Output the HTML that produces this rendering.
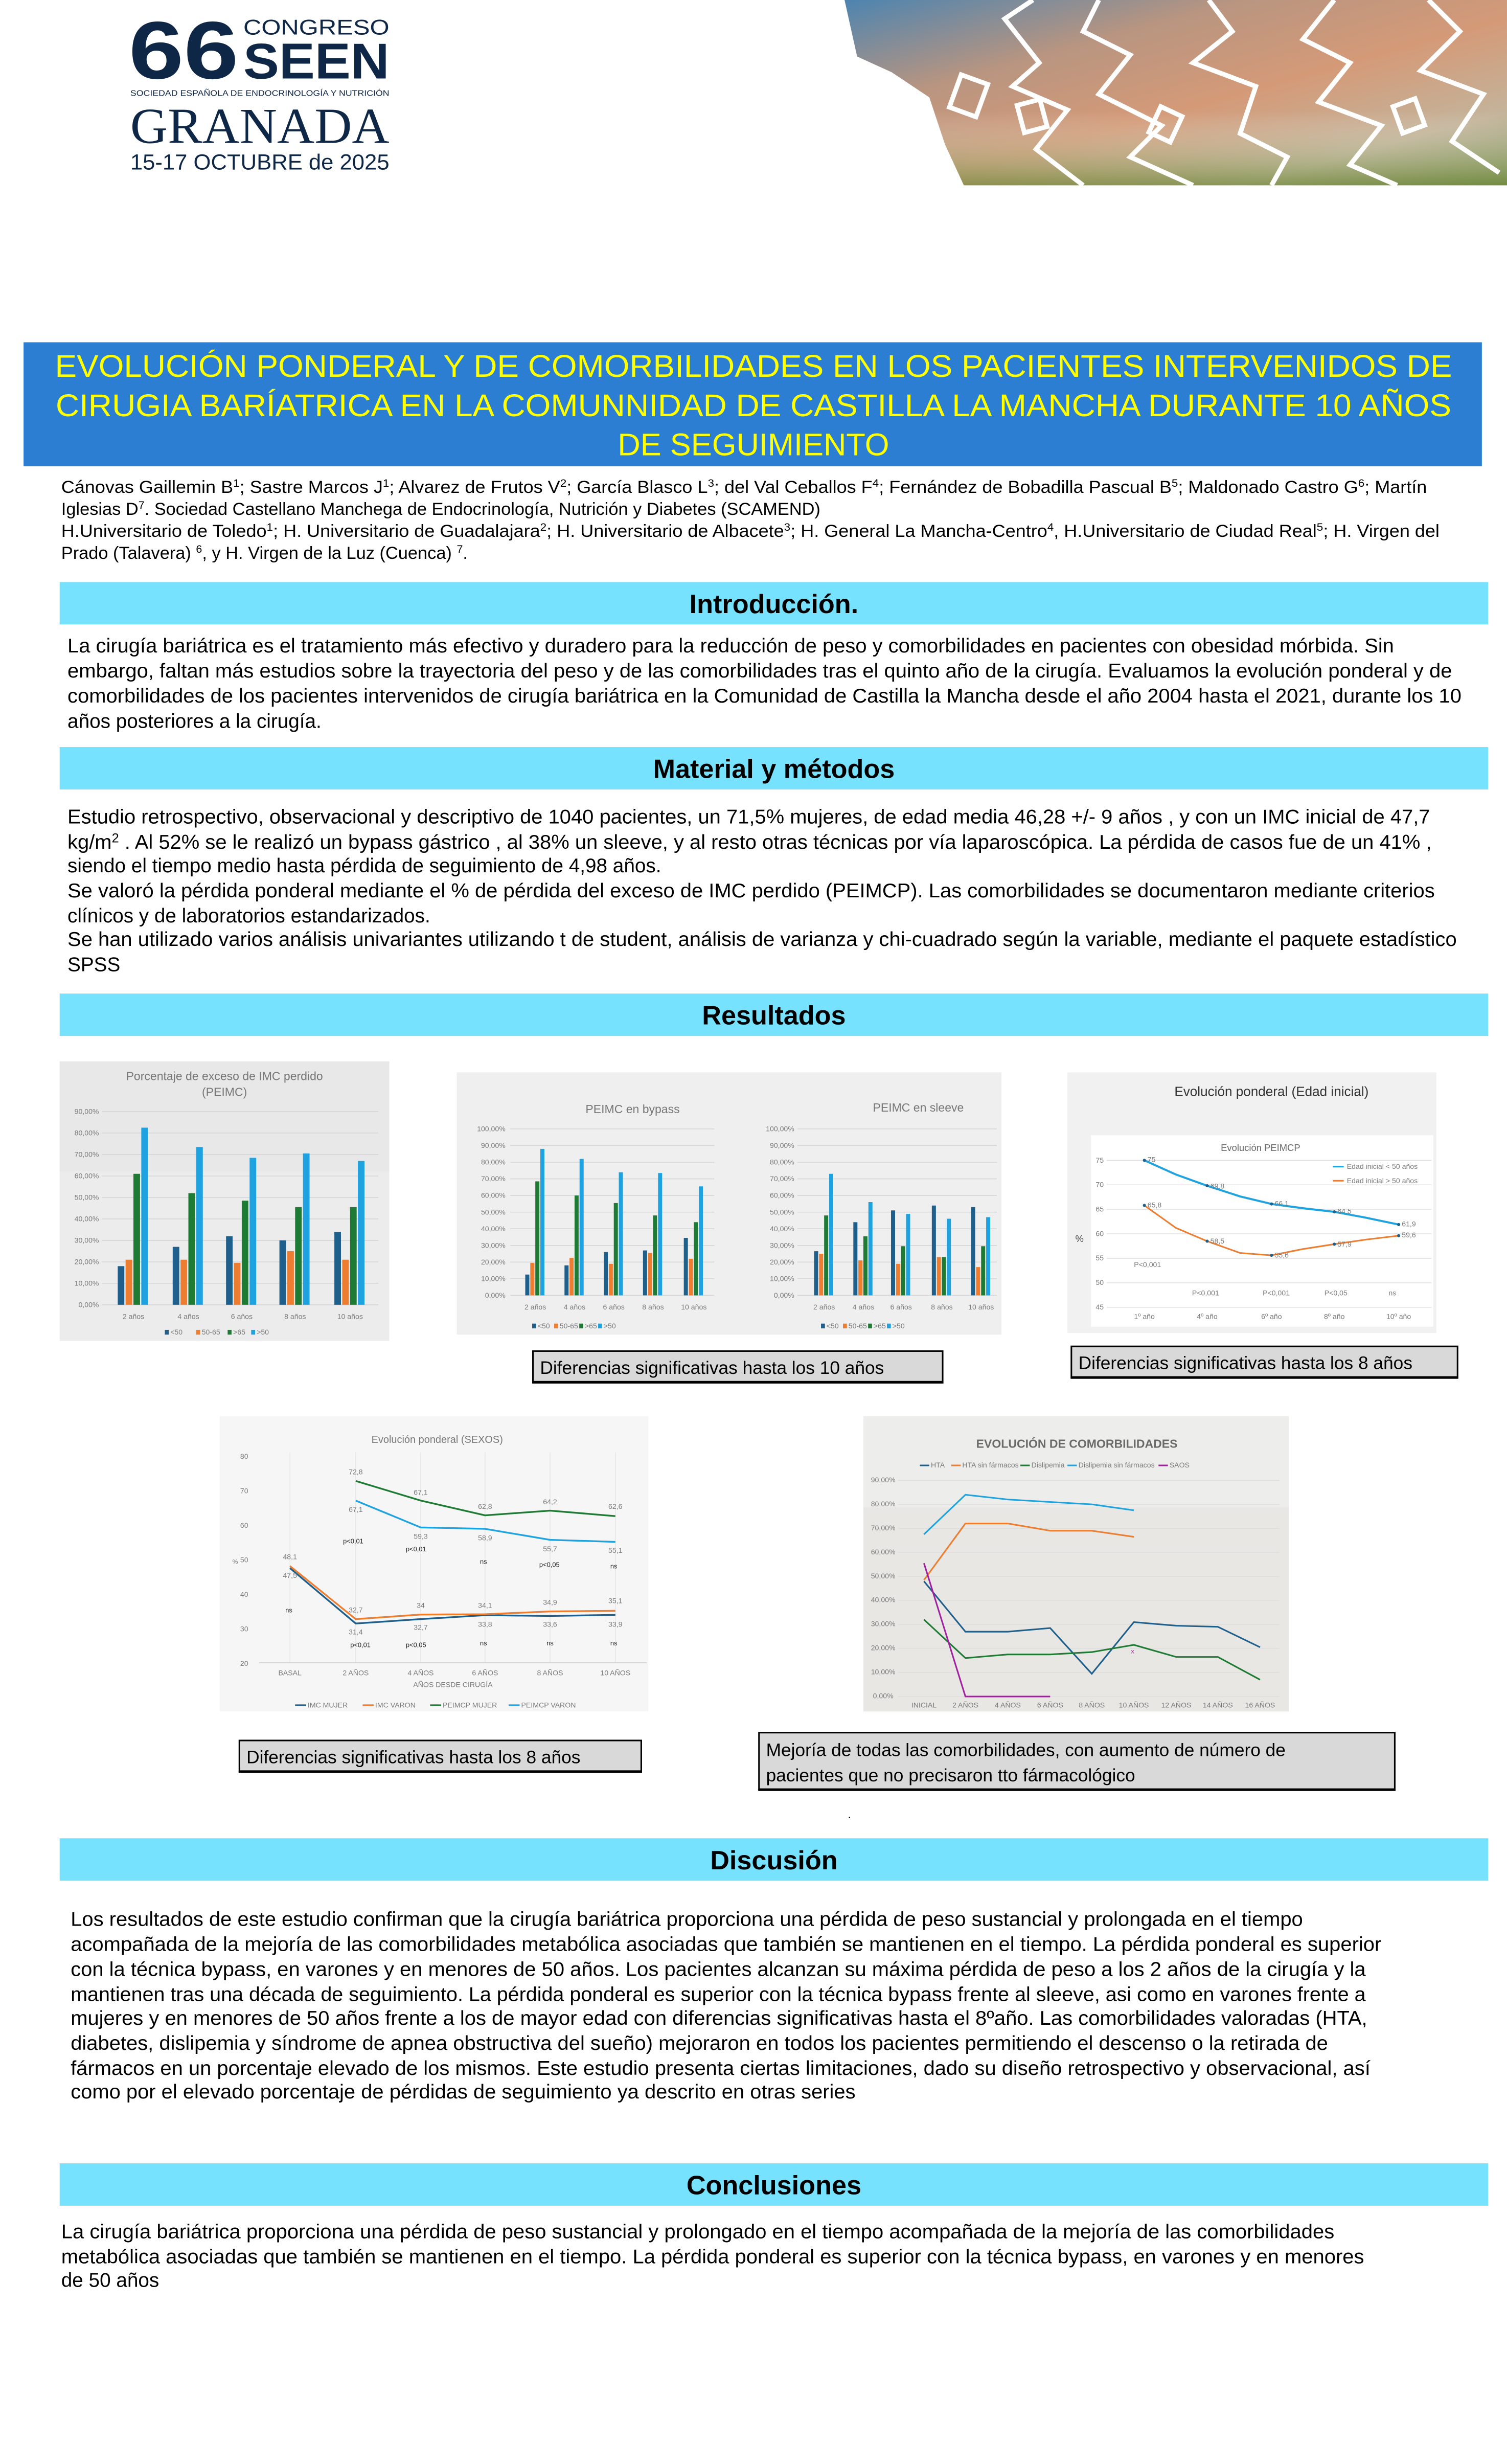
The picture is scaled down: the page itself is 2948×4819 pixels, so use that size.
<!DOCTYPE html>
<html><head><meta charset="utf-8"><style>
html,body{margin:0;padding:0;background:#fff;}
svg{display:block;}
text{font-family:"Liberation Sans",Arial,sans-serif;}
.b{font-size:12.6px;fill:#000;}
.a{font-size:11.2px;fill:#000;}
.t{font-size:4.6px;fill:#7a7a7a;}
.ct{fill:#6f6f6f;}
</style></head><body>
<svg width="2948" height="4819" viewBox="0 0 960 1569.3" xmlns="http://www.w3.org/2000/svg">
<defs>
<linearGradient id="hg" x1="0" y1="0" x2="1" y2="1">
<stop offset="0" stop-color="#4d84b0"/><stop offset="0.3" stop-color="#b99580"/><stop offset="0.55" stop-color="#d49a78"/><stop offset="0.8" stop-color="#c4b39a"/><stop offset="1" stop-color="#7d8f55"/></linearGradient>
<linearGradient id="hg2" x1="0" y1="0" x2="0" y2="1"><stop offset="0" stop-color="#fff" stop-opacity="0"/><stop offset="0.6" stop-color="#fff" stop-opacity="0"/><stop offset="1" stop-color="#6f8a3a" stop-opacity="0.7"/></linearGradient>
</defs>
<rect width="960" height="1569.3" fill="#fff"/>
<!-- Logo -->
<text x="82" y="50" font-size="52" font-weight="bold" fill="#0f2746" textLength="70" lengthAdjust="spacingAndGlyphs">66</text>
<text x="155" y="22" font-size="13.5" fill="#0f2746" textLength="93" lengthAdjust="spacingAndGlyphs">CONGRESO</text>
<text x="155" y="50" font-size="32" font-weight="bold" fill="#0f2746" textLength="93" lengthAdjust="spacingAndGlyphs">SEEN</text>
<text x="83" y="61" font-size="5" fill="#0f2746" textLength="165" lengthAdjust="spacingAndGlyphs">SOCIEDAD ESPAÑOLA DE ENDOCRINOLOGÍA Y NUTRICIÓN</text>
<text x="83" y="91" font-size="32" fill="#0f2746" style="font-family:'Liberation Serif',serif" textLength="165" lengthAdjust="spacingAndGlyphs">GRANADA</text>
<text x="83" y="108" font-size="14" fill="#0f2746" textLength="165" lengthAdjust="spacingAndGlyphs">15-17 OCTUBRE de 2025</text>
<!-- header image -->
<polygon points="538,0 960,0 960,118 614,118 602,92 592,62 568,46 546,36" fill="url(#hg)"/>
<polygon points="538,0 960,0 960,118 614,118 602,92 592,62 568,46 546,36" fill="url(#hg2)"/>
<g fill="none" stroke="#fff" stroke-width="3">
<polyline points="658,0 640,12 662,40 645,55 680,70 660,95 690,118"/>
<polyline points="700,0 690,20 720,35 700,60 740,80 720,100 760,118"/>
<polyline points="770,0 785,20 760,40 800,55 790,85 820,100 810,118"/>
<polyline points="850,0 830,25 860,40 840,65 880,80 860,105 890,118"/>
<polyline points="910,0 930,20 905,45 945,60 925,90 955,110"/>
<rect x="608" y="50" width="18" height="22" transform="rotate(20 617 61)"/>
<rect x="650" y="65" width="15" height="18" transform="rotate(-15 657 74)"/>
<rect x="735" y="70" width="15" height="18" transform="rotate(25 742 79)"/>
<rect x="890" y="65" width="15" height="18" transform="rotate(-20 897 74)"/>
</g>
<!-- Title -->
<rect x="15" y="218" width="929" height="79" fill="#2c7ed3"/>
<g font-size="20" fill="#ffff00" text-anchor="middle">
<text x="480" y="240" textLength="890" lengthAdjust="spacingAndGlyphs">EVOLUCIÓN PONDERAL Y DE COMORBILIDADES EN LOS PACIENTES INTERVENIDOS DE</text>
<text x="480" y="265" textLength="889" lengthAdjust="spacingAndGlyphs">CIRUGIA BARÍATRICA EN LA COMUNNIDAD DE CASTILLA LA MANCHA DURANTE 10 AÑOS</text>
<text x="480" y="290">DE SEGUIMIENTO</text>
</g>
<!-- authors -->
<text class="a" x="39" y="314" textLength="870" lengthAdjust="spacingAndGlyphs">Cánovas Gaillemin B<tspan font-size="7" dy="-4">1</tspan><tspan dy="4">; Sastre Marcos J</tspan><tspan font-size="7" dy="-4">1</tspan><tspan dy="4">; Alvarez de Frutos V</tspan><tspan font-size="7" dy="-4">2</tspan><tspan dy="4">; García Blasco L</tspan><tspan font-size="7" dy="-4">3</tspan><tspan dy="4">; del Val Ceballos F</tspan><tspan font-size="7" dy="-4">4</tspan><tspan dy="4">; Fernández de Bobadilla Pascual B</tspan><tspan font-size="7" dy="-4">5</tspan><tspan dy="4">; Maldonado Castro G</tspan><tspan font-size="7" dy="-4">6</tspan><tspan dy="4">; Martín</tspan></text>
<text class="a" x="39" y="328">Iglesias D<tspan font-size="7" dy="-4">7</tspan><tspan dy="4">. Sociedad Castellano Manchega de Endocrinología, Nutrición y Diabetes (SCAMEND)</tspan></text>
<text class="a" x="39" y="342" textLength="878" lengthAdjust="spacingAndGlyphs">H.Universitario de Toledo<tspan font-size="7" dy="-4">1</tspan><tspan dy="4">; H. Universitario de Guadalajara</tspan><tspan font-size="7" dy="-4">2</tspan><tspan dy="4">; H. Universitario de Albacete</tspan><tspan font-size="7" dy="-4">3</tspan><tspan dy="4">; H. General La Mancha-Centro</tspan><tspan font-size="7" dy="-4">4</tspan><tspan dy="4">, H.Universitario de Ciudad Real</tspan><tspan font-size="7" dy="-4">5</tspan><tspan dy="4">; H. Virgen del</tspan></text>
<text class="a" x="39" y="356">Prado (Talavera) <tspan font-size="7" dy="-4">6</tspan><tspan dy="4">, y H. Virgen de la Luz (Cuenca) </tspan><tspan font-size="7" dy="-4">7</tspan><tspan dy="4">.</tspan></text>
<!-- section bars -->
<g fill="#76e2fd">
<rect x="38" y="370.7" width="910" height="27"/>
<rect x="38" y="475.8" width="910" height="27"/>
<rect x="38" y="632.8" width="910" height="27"/>
<rect x="38" y="1170.8" width="910" height="27"/>
<rect x="38" y="1377.8" width="910" height="27"/>
</g>
<g font-size="17" font-weight="bold" text-anchor="middle" fill="#000">
<text x="493" y="390.5">Introducción.</text>
<text x="493" y="495.5">Material y métodos</text>
<text x="493" y="652.5">Resultados</text>
<text x="493" y="1190.5">Discusión</text>
<text x="493" y="1397.5">Conclusiones</text>
</g>
<!-- intro -->
<text class="b" x="43" y="415.5" textLength="845" lengthAdjust="spacingAndGlyphs">La cirugía bariátrica es el tratamiento más efectivo y duradero para la reducción de peso y comorbilidades en pacientes con obesidad mórbida. Sin</text>
<text class="b" x="43" y="431.5" textLength="882" lengthAdjust="spacingAndGlyphs">embargo, faltan más estudios sobre la trayectoria del peso y de las comorbilidades tras el quinto año de la cirugía. Evaluamos la evolución ponderal y de</text>
<text class="b" x="43" y="447.5" textLength="888" lengthAdjust="spacingAndGlyphs">comorbilidades de los pacientes intervenidos de cirugía bariátrica en la Comunidad de Castilla la Mancha desde el año 2004 hasta el 2021, durante los 10</text>
<text class="b" x="43" y="463.5">años posteriores a la cirugía.</text>
<!-- material -->
<text class="b" x="43" y="524.5" textLength="868" lengthAdjust="spacingAndGlyphs">Estudio retrospectivo, observacional y descriptivo de 1040 pacientes, un 71,5% mujeres, de edad media 46,28 +/- 9 años , y con un IMC inicial de 47,7</text>
<text class="b" x="43" y="540.5" textLength="869" lengthAdjust="spacingAndGlyphs">kg/m<tspan font-size="8" dy="-4">2</tspan><tspan dy="4"> . Al 52% se le realizó un bypass gástrico , al 38% un sleeve, y al resto otras técnicas por vía laparoscópica. La pérdida de casos fue de un 41% ,</tspan></text>
<text class="b" x="43" y="555.5">siendo el tiempo medio hasta pérdida de seguimiento de 4,98 años.</text>
<text class="b" x="43" y="571.5" textLength="871" lengthAdjust="spacingAndGlyphs">Se valoró la pérdida ponderal mediante el % de pérdida del exceso de IMC perdido (PEIMCP). Las comorbilidades se documentaron mediante criterios</text>
<text class="b" x="43" y="587.5">clínicos y de laboratorios estandarizados.</text>
<text class="b" x="43" y="602.5" textLength="885" lengthAdjust="spacingAndGlyphs">Se han utilizado varios análisis univariantes utilizando t de student, análisis de varianza y chi-cuadrado según la variable, mediante el paquete estadístico</text>
<text class="b" x="43" y="618.5">SPSS</text>

<!-- CHART 1 -->
<rect x="38" y="676" width="210" height="178" fill="#ececec"/>
<rect x="38" y="676" width="210" height="70" fill="#e4e4e4" opacity="0.5"/>
<text x="143" y="688" font-size="7.5" fill="#777" text-anchor="middle">Porcentaje de exceso de IMC perdido</text>
<text x="143" y="698" font-size="7.5" fill="#777" text-anchor="middle">(PEIMC)</text>
<g stroke="#d4d4d4" stroke-width="0.5">
<line x1="65" x2="241" y1="831" y2="831"/><line x1="65" x2="241" y1="817.3" y2="817.3"/><line x1="65" x2="241" y1="803.7" y2="803.7"/><line x1="65" x2="241" y1="790" y2="790"/><line x1="65" x2="241" y1="776.3" y2="776.3"/><line x1="65" x2="241" y1="762.7" y2="762.7"/><line x1="65" x2="241" y1="749" y2="749"/><line x1="65" x2="241" y1="735.3" y2="735.3"/><line x1="65" x2="241" y1="721.6" y2="721.6"/><line x1="65" x2="241" y1="708" y2="708"/>
</g>
<g class="t" text-anchor="end">
<text x="63" y="832.5">0,00%</text><text x="63" y="818.8">10,00%</text><text x="63" y="805.2">20,00%</text><text x="63" y="791.5">30,00%</text><text x="63" y="777.8">40,00%</text><text x="63" y="764.2">50,00%</text><text x="63" y="750.5">60,00%</text><text x="63" y="736.8">70,00%</text><text x="63" y="723.1">80,00%</text><text x="63" y="709.5">90,00%</text>
</g>
<g>
<g fill="#1f5f8b"><rect x="75" y="806.4" width="4.2" height="24.6"/><rect x="110" y="794.1" width="4.2" height="36.9"/><rect x="144" y="787.3" width="4.2" height="43.7"/><rect x="178" y="790" width="4.2" height="41"/><rect x="213" y="784.5" width="4.2" height="46.5"/></g>
<g fill="#ed7d31"><rect x="80" y="802.3" width="4.2" height="28.7"/><rect x="115" y="802.3" width="4.2" height="28.7"/><rect x="149" y="804.3" width="4.2" height="26.7"/><rect x="183" y="796.8" width="4.2" height="34.2"/><rect x="218" y="802.3" width="4.2" height="28.7"/></g>
<g fill="#1e7b34"><rect x="85" y="747.6" width="4.2" height="83.4"/><rect x="120" y="759.9" width="4.2" height="71.1"/><rect x="154" y="764.7" width="4.2" height="66.3"/><rect x="188" y="768.8" width="4.2" height="62.2"/><rect x="223" y="768.8" width="4.2" height="62.2"/></g>
<g fill="#1fa3e0"><rect x="90" y="718.2" width="4.2" height="112.8"/><rect x="125" y="730.5" width="4.2" height="100.5"/><rect x="159" y="737.4" width="4.2" height="93.6"/><rect x="193" y="734.6" width="4.2" height="96.4"/><rect x="228" y="739.4" width="4.2" height="91.6"/></g>
</g>
<g class="t" text-anchor="middle"><text x="85" y="840">2 años</text><text x="120" y="840">4 años</text><text x="154" y="840">6 años</text><text x="188" y="840">8 años</text><text x="223" y="840">10 años</text></g>
<g class="t"><rect x="105" y="847" width="2.5" height="3" fill="#1f5f8b"/><text x="108.5" y="850">&lt;50</text><rect x="125" y="847" width="2.5" height="3" fill="#ed7d31"/><text x="128.5" y="850">50-65</text><rect x="145" y="847" width="2.5" height="3" fill="#1e7b34"/><text x="148.5" y="850">&gt;65</text><rect x="160" y="847" width="2.5" height="3" fill="#1fa3e0"/><text x="163.5" y="850">&gt;50</text></g>

<!-- CHART 2 -->
<rect x="291" y="683" width="347" height="167" fill="#efefef"/>
<text x="403" y="709" font-size="7.5" fill="#777" text-anchor="middle">PEIMC en bypass</text>
<text x="585" y="708" font-size="7.5" fill="#777" text-anchor="middle">PEIMC en sleeve</text>
<g stroke="#d4d4d4" stroke-width="0.5">
<line x1="325" x2="455" y1="825" y2="825"/><line x1="325" x2="455" y1="814.4" y2="814.4"/><line x1="325" x2="455" y1="803.8" y2="803.8"/><line x1="325" x2="455" y1="793.2" y2="793.2"/><line x1="325" x2="455" y1="782.6" y2="782.6"/><line x1="325" x2="455" y1="772" y2="772"/><line x1="325" x2="455" y1="761.4" y2="761.4"/><line x1="325" x2="455" y1="750.8" y2="750.8"/><line x1="325" x2="455" y1="740.2" y2="740.2"/><line x1="325" x2="455" y1="729.6" y2="729.6"/><line x1="325" x2="455" y1="719" y2="719"/>
<line x1="508" x2="635" y1="825" y2="825"/><line x1="508" x2="635" y1="814.4" y2="814.4"/><line x1="508" x2="635" y1="803.8" y2="803.8"/><line x1="508" x2="635" y1="793.2" y2="793.2"/><line x1="508" x2="635" y1="782.6" y2="782.6"/><line x1="508" x2="635" y1="772" y2="772"/><line x1="508" x2="635" y1="761.4" y2="761.4"/><line x1="508" x2="635" y1="750.8" y2="750.8"/><line x1="508" x2="635" y1="740.2" y2="740.2"/><line x1="508" x2="635" y1="729.6" y2="729.6"/><line x1="508" x2="635" y1="719" y2="719"/>
</g>
<g class="t" text-anchor="end">
<text x="322" y="826.5">0,00%</text><text x="322" y="815.9">10,00%</text><text x="322" y="805.3">20,00%</text><text x="322" y="794.7">30,00%</text><text x="322" y="784.1">40,00%</text><text x="322" y="773.5">50,00%</text><text x="322" y="762.9">60,00%</text><text x="322" y="752.3">70,00%</text><text x="322" y="741.7">80,00%</text><text x="322" y="731.1">90,00%</text><text x="322" y="720.5">100,00%</text>
<text x="506" y="826.5">0,00%</text><text x="506" y="815.9">10,00%</text><text x="506" y="805.3">20,00%</text><text x="506" y="794.7">30,00%</text><text x="506" y="784.1">40,00%</text><text x="506" y="773.5">50,00%</text><text x="506" y="762.9">60,00%</text><text x="506" y="752.3">70,00%</text><text x="506" y="741.7">80,00%</text><text x="506" y="731.1">90,00%</text><text x="506" y="720.5">100,00%</text>
</g>
<g fill="#1f5f8b"><rect x="334.6" y="811.75" width="2.6" height="13.25"/><rect x="359.6" y="805.9" width="2.6" height="19.1"/><rect x="384.6" y="797.4" width="2.6" height="27.6"/><rect x="409.6" y="796.4" width="2.6" height="28.6"/><rect x="435.6" y="788.4" width="2.6" height="36.6"/>
<rect x="518.6" y="796.9" width="2.6" height="28.1"/><rect x="543.6" y="778.4" width="2.6" height="46.6"/><rect x="567.6" y="770.9" width="2.6" height="54.1"/><rect x="593.6" y="767.8" width="2.6" height="57.2"/><rect x="618.6" y="768.8" width="2.6" height="56.2"/></g>
<g fill="#ed7d31"><rect x="337.8" y="804.3" width="2.6" height="20.7"/><rect x="362.8" y="801.15" width="2.6" height="23.85"/><rect x="387.8" y="804.9" width="2.6" height="20.1"/><rect x="412.8" y="798" width="2.6" height="27"/><rect x="438.8" y="801.7" width="2.6" height="23.3"/>
<rect x="521.8" y="798.5" width="2.6" height="26.5"/><rect x="546.8" y="802.7" width="2.6" height="22.3"/><rect x="570.8" y="804.9" width="2.6" height="20.1"/><rect x="596.8" y="800.6" width="2.6" height="24.4"/><rect x="621.8" y="807" width="2.6" height="18"/></g>
<g fill="#1e7b34"><rect x="341" y="752.4" width="2.6" height="72.6"/><rect x="366" y="761.4" width="2.6" height="63.6"/><rect x="391" y="766.2" width="2.6" height="58.8"/><rect x="416" y="774.1" width="2.6" height="50.9"/><rect x="442" y="778.4" width="2.6" height="46.6"/>
<rect x="525" y="774.1" width="2.6" height="50.9"/><rect x="550" y="787.4" width="2.6" height="37.6"/><rect x="574" y="793.7" width="2.6" height="31.3"/><rect x="600" y="800.6" width="2.6" height="24.4"/><rect x="625" y="793.7" width="2.6" height="31.3"/></g>
<g fill="#1fa3e0"><rect x="344.2" y="731.7" width="2.6" height="93.3"/><rect x="369.2" y="738.1" width="2.6" height="86.9"/><rect x="394.2" y="746.6" width="2.6" height="78.4"/><rect x="419.2" y="747.1" width="2.6" height="77.9"/><rect x="445.2" y="755.6" width="2.6" height="69.4"/>
<rect x="528.2" y="747.6" width="2.6" height="77.4"/><rect x="553.2" y="765.6" width="2.6" height="59.4"/><rect x="577.2" y="773.1" width="2.6" height="51.9"/><rect x="603.2" y="776.2" width="2.6" height="48.8"/><rect x="628.2" y="775.2" width="2.6" height="49.8"/></g>
<g class="t" text-anchor="middle"><text x="341" y="834">2 años</text><text x="366" y="834">4 años</text><text x="391" y="834">6 años</text><text x="416" y="834">8 años</text><text x="442" y="834">10 años</text>
<text x="525" y="834">2 años</text><text x="550" y="834">4 años</text><text x="574" y="834">6 años</text><text x="600" y="834">8 años</text><text x="625" y="834">10 años</text></g>
<g class="t"><rect x="339" y="843" width="2.5" height="3" fill="#1f5f8b"/><text x="342.5" y="846">&lt;50</text><rect x="353" y="843" width="2.5" height="3" fill="#ed7d31"/><text x="356.5" y="846">50-65</text><rect x="369" y="843" width="2.5" height="3" fill="#1e7b34"/><text x="372.5" y="846">&gt;65</text><rect x="381" y="843" width="2.5" height="3" fill="#1fa3e0"/><text x="384.5" y="846">&gt;50</text>
<rect x="523" y="843" width="2.5" height="3" fill="#1f5f8b"/><text x="526.5" y="846">&lt;50</text><rect x="537" y="843" width="2.5" height="3" fill="#ed7d31"/><text x="540.5" y="846">50-65</text><rect x="553" y="843" width="2.5" height="3" fill="#1e7b34"/><text x="556.5" y="846">&gt;65</text><rect x="565" y="843" width="2.5" height="3" fill="#1fa3e0"/><text x="568.5" y="846">&gt;50</text></g>

<!-- CHART 3 -->
<rect x="680" y="683" width="235" height="166" fill="#f1f1f1"/>
<rect x="695" y="723" width="218" height="122" fill="#fff"/>
<text x="810" y="698" font-size="8.5" fill="#333" text-anchor="middle">Evolución ponderal (Edad inicial)</text>
<text x="803" y="733" font-size="6" fill="#666" text-anchor="middle">Evolución PEIMCP</text>
<g stroke="#e0e0e0" stroke-width="0.5"><line x1="705" x2="912" y1="739" y2="739"/><line x1="705" x2="912" y1="754.6" y2="754.6"/><line x1="705" x2="912" y1="770.2" y2="770.2"/><line x1="705" x2="912" y1="785.8" y2="785.8"/><line x1="705" x2="912" y1="801.4" y2="801.4"/><line x1="705" x2="912" y1="817" y2="817"/><line x1="705" x2="912" y1="832.6" y2="832.6"/></g>
<g class="t" font-size="4"><text x="698" y="740.5">75</text><text x="698" y="756">70</text><text x="698" y="771.6">65</text><text x="698" y="787.2">60</text><text x="698" y="802.8">55</text><text x="698" y="818.4">50</text><text x="698" y="834">45</text></g>
<text x="685" y="791" font-size="6" fill="#444">%</text>
<polyline points="729,739 749,748 769,755.2 790,762 810,766.8 830,769.5 850,771.8 870,775.5 891,779.9" fill="none" stroke="#1fa3e0" stroke-width="1.3"/>
<polyline points="729,767.7 749,782 769,790.5 790,798 810,799.5 830,795.5 850,792.4 870,789.5 891,787" fill="none" stroke="#ed7d31" stroke-width="1"/>
<g fill="#1f5f8b"><circle cx="729" cy="739" r="1"/><circle cx="769" cy="755.2" r="1"/><circle cx="810" cy="766.8" r="1"/><circle cx="850" cy="771.8" r="1"/><circle cx="891" cy="779.9" r="1"/>
<circle cx="729" cy="767.7" r="1"/><circle cx="769" cy="790.5" r="1"/><circle cx="810" cy="799.5" r="1"/><circle cx="850" cy="792.4" r="1"/><circle cx="891" cy="787" r="1"/></g>
<g class="t" font-size="4" fill="#444"><text x="731" y="740">75</text><text x="771" y="757">69,8</text><text x="812" y="768">66,1</text><text x="852" y="773">64,5</text><text x="893" y="781">61,9</text>
<text x="731" y="769">65,8</text><text x="771" y="792">58,5</text><text x="812" y="801">55,6</text><text x="852" y="794">57,9</text><text x="893" y="788">59,6</text></g>
<g class="t" font-size="3.6" fill="#333" text-anchor="middle"><text x="731" y="807">P&lt;0,001</text><text x="768" y="825">P&lt;0,001</text><text x="813" y="825">P&lt;0,001</text><text x="851" y="825">P&lt;0,05</text><text x="887" y="825">ns</text>
<text x="729" y="840">1º año</text><text x="769" y="840">4º año</text><text x="810" y="840">6º año</text><text x="850" y="840">8º año</text><text x="891" y="840">10º año</text></g>
<line x1="849" x2="856" y1="743" y2="743" stroke="#1fa3e0" stroke-width="1"/><line x1="849" x2="856" y1="752" y2="752" stroke="#ed7d31" stroke-width="1"/>
<g class="t" font-size="3.8"><text x="858" y="744.5">Edad inicial &lt; 50 años</text><text x="858" y="753.5">Edad inicial &gt; 50 años</text></g>

<!-- boxes row 1 -->
<rect x="339.5" y="860.5" width="261" height="19.5" fill="#d9d9d9" stroke="#000" stroke-width="1"/><line x1="339" x2="601" y1="880.5" y2="880.5" stroke="#000" stroke-width="1.3"/>
<text x="344" y="875" font-size="11.5">Diferencias significativas hasta los 10 años</text>
<rect x="682.5" y="857.5" width="246" height="19.5" fill="#d9d9d9" stroke="#000" stroke-width="1"/><line x1="682" x2="929" y1="877.5" y2="877.5" stroke="#000" stroke-width="1.3"/>
<text x="687" y="872" font-size="11.5">Diferencias significativas hasta los 8 años</text>

<!-- CHART 4 -->
<rect x="140" y="902" width="273" height="188" fill="#f6f6f6"/>
<text x="278.5" y="919" font-size="6.5" fill="#777" text-anchor="middle">Evolución ponderal (SEXOS)</text>
<g stroke="#e2e2e2" stroke-width="0.4"><line x1="184.7" x2="184.7" y1="925" y2="1059"/><line x1="226.6" x2="226.6" y1="925" y2="1059"/><line x1="268" x2="268" y1="925" y2="1059"/><line x1="309" x2="309" y1="925" y2="1059"/><line x1="350.4" x2="350.4" y1="925" y2="1059"/><line x1="392" x2="392" y1="925" y2="1059"/></g>
<line x1="165" x2="412" y1="1059" y2="1059" stroke="#ccc" stroke-width="0.5"/>
<g class="t"><text x="153" y="929">80</text><text x="153" y="951">70</text><text x="153" y="973">60</text><text x="153" y="995">50</text><text x="153" y="1017">40</text><text x="153" y="1039">30</text><text x="153" y="1061">20</text></g>
<text x="148" y="996" font-size="4" fill="#777">%</text>
<polyline points="226.6,943.2 268,955.7 309,965.1 350.4,962.1 392,965.6" fill="none" stroke="#1e7b34" stroke-width="1.1"/>
<polyline points="226.6,955.7 268,972.8 309,973.7 350.4,980.7 392,982" fill="none" stroke="#1fa3e0" stroke-width="1.1"/>
<polyline points="184.7,998.7 226.6,1034 268,1031.2 309,1028.7 350.4,1029.2 392,1028.5" fill="none" stroke="#1f5f8b" stroke-width="1.1"/>
<polyline points="184.7,997.4 226.6,1031.2 268,1028.3 309,1028.1 350.4,1026.3 392,1025.9" fill="none" stroke="#ed7d31" stroke-width="1.1"/>
<g class="t" font-size="4.2" fill="#777" text-anchor="middle">
<text x="226.6" y="939">72,8</text><text x="268" y="952">67,1</text><text x="309" y="961">62,8</text><text x="350.4" y="958">64,2</text><text x="392" y="961">62,6</text>
<text x="226.6" y="963">67,1</text><text x="268" y="980">59,3</text><text x="309" y="981">58,9</text><text x="350.4" y="988">55,7</text><text x="392" y="989">55,1</text>
<text x="184.7" y="993">48,1</text><text x="184.7" y="1005">47,5</text>
<text x="226.6" y="1027">32,7</text><text x="268" y="1024">34</text><text x="309" y="1024">34,1</text><text x="350.4" y="1022">34,9</text><text x="392" y="1021">35,1</text>
<text x="226.6" y="1041">31,4</text><text x="268" y="1038">32,7</text><text x="309" y="1036">33,8</text><text x="350.4" y="1036">33,6</text><text x="392" y="1036">33,9</text>
</g>
<g font-size="4.2" fill="#222" text-anchor="middle"><text x="225" y="983">p&lt;0,01</text><text x="265" y="988">p&lt;0,01</text><text x="308" y="996">ns</text><text x="350" y="998">p&lt;0,05</text><text x="391" y="999">ns</text>
<text x="184" y="1027">ns</text><text x="229.6" y="1049">p&lt;0,01</text><text x="265" y="1049">p&lt;0,05</text><text x="308" y="1048">ns</text><text x="350.4" y="1048">ns</text><text x="391" y="1048">ns</text></g>
<g class="t" font-size="4" text-anchor="middle"><text x="184.7" y="1067">BASAL</text><text x="226.6" y="1067">2 AÑOS</text><text x="268" y="1067">4 AÑOS</text><text x="309" y="1067">6 AÑOS</text><text x="350.4" y="1067">8 AÑOS</text><text x="392" y="1067">10 AÑOS</text>
<text x="288.5" y="1074.5">AÑOS DESDE CIRUGÍA</text></g>
<g class="t" font-size="3.8"><line x1="188" x2="195" y1="1086" y2="1086" stroke="#1f5f8b"/><text x="196" y="1087.5">IMC MUJER</text>
<line x1="231" x2="238" y1="1086" y2="1086" stroke="#ed7d31"/><text x="239" y="1087.5">IMC VARON</text>
<line x1="274" x2="281" y1="1086" y2="1086" stroke="#1e7b34"/><text x="282" y="1087.5">PEIMCP MUJER</text>
<line x1="324" x2="331" y1="1086" y2="1086" stroke="#1fa3e0"/><text x="332" y="1087.5">PEIMCP VARON</text></g>

<!-- CHART 5 -->
<rect x="550" y="902" width="271" height="188" fill="#ededeb"/>
<rect x="550" y="960" width="271" height="130" fill="#e6e2de" opacity="0.6"/>
<text x="686" y="922" font-size="7.5" font-weight="bold" fill="#6a6a6a" text-anchor="middle">EVOLUCIÓN DE COMORBILIDADES</text>
<g stroke="#dcdcdc" stroke-width="0.4"><line x1="572" x2="815" y1="942.8" y2="942.8"/><line x1="572" x2="815" y1="958.1" y2="958.1"/><line x1="572" x2="815" y1="973.4" y2="973.4"/><line x1="572" x2="815" y1="988.7" y2="988.7"/><line x1="572" x2="815" y1="1004" y2="1004"/><line x1="572" x2="815" y1="1019.3" y2="1019.3"/><line x1="572" x2="815" y1="1034.6" y2="1034.6"/><line x1="572" x2="815" y1="1049.9" y2="1049.9"/><line x1="572" x2="815" y1="1065.2" y2="1065.2"/><line x1="572" x2="815" y1="1080.5" y2="1080.5"/></g>
<g class="t" font-size="3.8" text-anchor="middle"><text x="562.6" y="944">90,00%</text><text x="562.6" y="959.3">80,00%</text><text x="562.6" y="974.6">70,00%</text><text x="562.6" y="989.9">60,00%</text><text x="562.6" y="1005.2">50,00%</text><text x="562.6" y="1020.5">40,00%</text><text x="562.6" y="1035.8">30,00%</text><text x="562.6" y="1051.1">20,00%</text><text x="562.6" y="1066.4">10,00%</text><text x="562.6" y="1081.7">0,00%</text>
<text x="588.6" y="1087.5">INICIAL</text><text x="615" y="1087.5">2 AÑOS</text><text x="642" y="1087.5">4 AÑOS</text><text x="669" y="1087.5">6 AÑOS</text><text x="695.5" y="1087.5">8 AÑOS</text><text x="722.3" y="1087.5">10 AÑOS</text><text x="749.3" y="1087.5">12 AÑOS</text><text x="775.8" y="1087.5">14 AÑOS</text><text x="802.7" y="1087.5">16 AÑOS</text></g>
<g fill="none" stroke-width="1">
<polyline points="588.6,1007.1 615,1039.2 642,1039.2 669,1036.9 695.5,1066 722.3,1033.1 749.3,1035.4 775.8,1036.1 802.7,1049.1" stroke="#1f5f8b"/>
<polyline points="588.6,1006.3 615,970.3 642,970.3 669,974.9 695.5,974.9 722.3,978.8" stroke="#ed7d31"/>
<polyline points="588.6,1031.5 615,1056 642,1053.7 669,1053.7 695.5,1052.2 722.3,1047.6 749.3,1055.3 775.8,1055.3 802.7,1069.8" stroke="#1e7b34"/>
<polyline points="588.6,977.2 615,952 642,955 669,956.6 695.5,958.1 722.3,961.9" stroke="#1fa3e0"/>
<polyline points="588.6,995.6 615,1080.5 642,1080.5 669,1080.5" stroke="#a020a0"/>
</g>
<text x="720.5" y="1053" font-size="4" fill="#a020a0">x</text>
<g class="t" font-size="3.8">
<line x1="586" x2="592" y1="933.3" y2="933.3" stroke="#1f5f8b"/><text x="593" y="934.6">HTA</text>
<line x1="606" x2="612" y1="933.3" y2="933.3" stroke="#ed7d31"/><text x="613" y="934.6">HTA sin fármacos</text>
<line x1="650" x2="656" y1="933.3" y2="933.3" stroke="#1e7b34"/><text x="657" y="934.6">Dislipemia</text>
<line x1="680" x2="686" y1="933.3" y2="933.3" stroke="#1fa3e0"/><text x="687" y="934.6">Dislipemia sin fármacos</text>
<line x1="738" x2="744" y1="933.3" y2="933.3" stroke="#a020a0"/><text x="745" y="934.6">SAOS</text></g>

<!-- boxes row 2 -->
<rect x="152.5" y="1108.5" width="256" height="19.5" fill="#d9d9d9" stroke="#000" stroke-width="1"/><line x1="152" x2="409" y1="1128.5" y2="1128.5" stroke="#000" stroke-width="1.3"/>
<text x="157" y="1123" font-size="11.5">Diferencias significativas hasta los 8 años</text>
<rect x="483.5" y="1103.5" width="405" height="36" fill="#d9d9d9" stroke="#000" stroke-width="1"/><line x1="483" x2="889" y1="1140" y2="1140" stroke="#000" stroke-width="1.3"/>
<text x="488" y="1118.5" font-size="11.5">Mejoría de todas las comorbilidades, con aumento de número de</text>
<text x="488" y="1134.5" font-size="11.5">pacientes que no precisaron tto fármacológico</text>
<text x="540" y="1158" font-size="8">.</text>

<!-- discusion -->
<text class="b" x="45" y="1226.5" textLength="785" lengthAdjust="spacingAndGlyphs">Los resultados de este estudio confirman que la cirugía bariátrica proporciona una pérdida de peso sustancial y prolongada en el tiempo</text>
<text class="b" x="45" y="1242.5" textLength="835" lengthAdjust="spacingAndGlyphs">acompañada de la mejoría de las comorbilidades metabólica asociadas que también se mantienen en el tiempo. La pérdida ponderal es superior</text>
<text class="b" x="45" y="1258.5" textLength="825" lengthAdjust="spacingAndGlyphs">con la técnica bypass, en varones y en menores de 50 años. Los pacientes alcanzan su máxima pérdida de peso a los 2 años de la cirugía y la</text>
<text class="b" x="45" y="1274.5" textLength="825" lengthAdjust="spacingAndGlyphs">mantienen tras una década de seguimiento. La pérdida ponderal es superior con la técnica bypass frente al sleeve, asi como en varones frente a</text>
<text class="b" x="45" y="1289.5" textLength="826" lengthAdjust="spacingAndGlyphs">mujeres y en menores de 50 años frente a los de mayor edad con diferencias significativas hasta el 8ºaño. Las comorbilidades valoradas (HTA,</text>
<text class="b" x="45" y="1305.5" textLength="801" lengthAdjust="spacingAndGlyphs">diabetes, dislipemia y síndrome de apnea obstructiva del sueño) mejoraron en todos los pacientes permitiendo el descenso o la retirada de</text>
<text class="b" x="45" y="1321.5" textLength="828" lengthAdjust="spacingAndGlyphs">fármacos en un porcentaje elevado de los mismos. Este estudio presenta ciertas limitaciones, dado su diseño retrospectivo y observacional, así</text>
<text class="b" x="45" y="1336.5" textLength="500" lengthAdjust="spacingAndGlyphs">como por el elevado porcentaje de pérdidas de seguimiento ya descrito en otras series</text>
<!-- conclusiones -->
<text class="b" x="39" y="1425.5" textLength="811" lengthAdjust="spacingAndGlyphs">La cirugía bariátrica proporciona una pérdida de peso sustancial y prolongado en el tiempo acompañada de la mejoría de las comorbilidades</text>
<text class="b" x="39" y="1441.5" textLength="830" lengthAdjust="spacingAndGlyphs">metabólica asociadas que también se mantienen en el tiempo. La pérdida ponderal es superior con la técnica bypass, en varones y en menores</text>
<text class="b" x="39" y="1456.5">de 50 años</text>
</svg>
</body></html>
